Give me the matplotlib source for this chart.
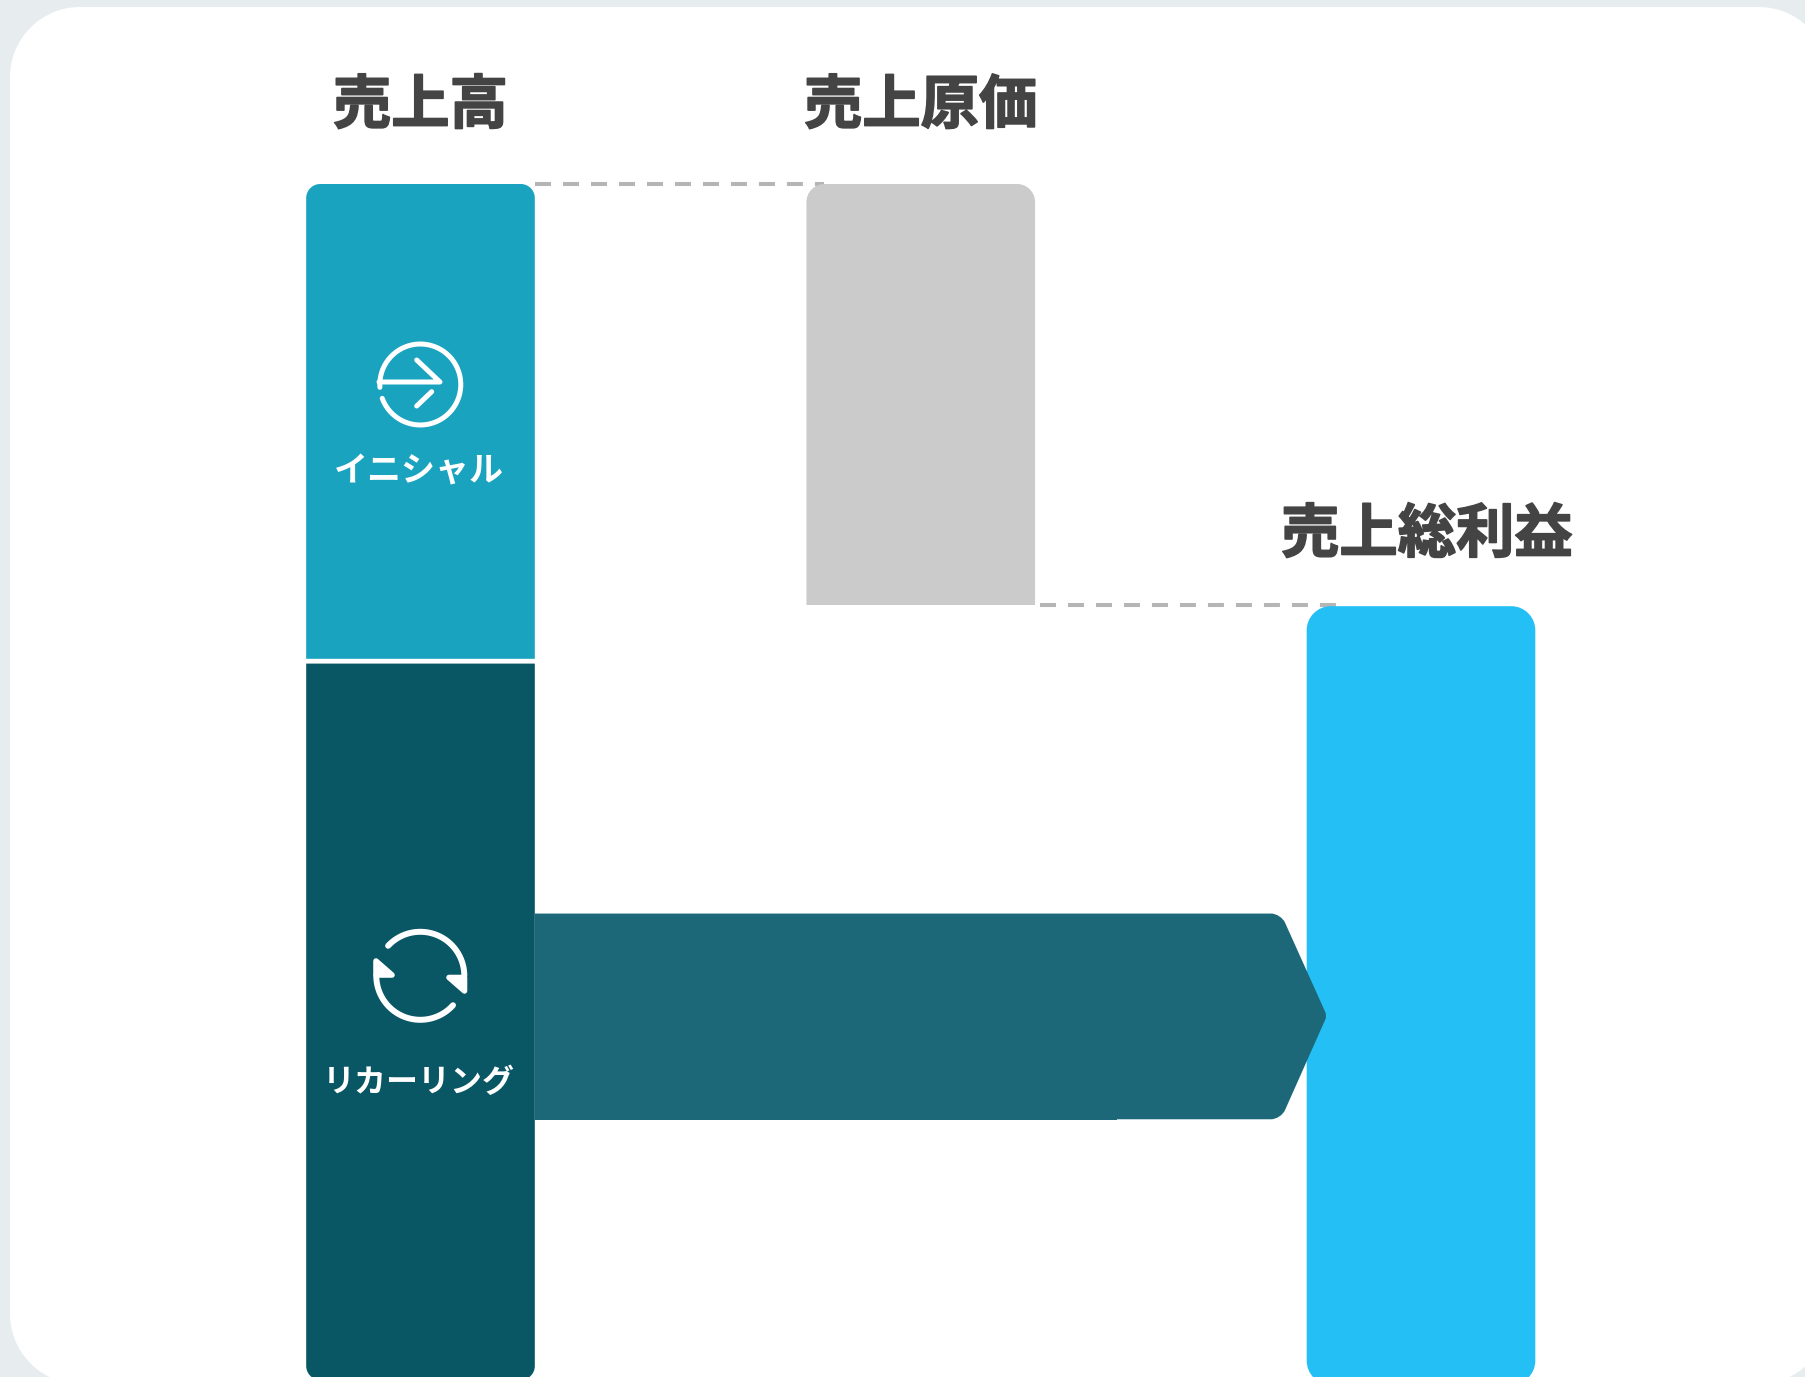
import numpy as np
import matplotlib
matplotlib.use('Agg')
import matplotlib.pyplot as plt
import matplotlib.patheffects as pe
from matplotlib.path import Path
from matplotlib.patches import PathPatch

plt.rcParams['font.family'] = ['Noto Sans CJK JP', 'DejaVu Sans']

# values as percent of sales
categories = ['売上高', '売上原価', '売上総利益']
initial = 39.7
recurring = 59.9
cost = 35.2
gross_profit = 64.7
band_low = 21.8
band_high = 39.0
segment_labels = ['イニシャル', 'リカーリング']

W, H = 1806, 1377
BG = '#e7ecef'
INITIAL_C = '#19a3bf'
RECUR_C = '#095664'
BAND_C = '#1c6878'
COST_C = '#cbcbcb'
PROFIT_C = '#24bff4'
DASH_C = '#b5b5b5'
TITLE_C = '#444444'


def rounded(ax, pts, radii, color, zorder=2):
    # pts in data coords, radii in pixels, drawn in display coords
    p = ax.transData.transform(pts)
    verts, codes = [], []
    n = len(p)
    for i in range(n):
        a, b, c = p[i - 1], p[i], p[(i + 1) % n]
        r = radii[i]
        u1 = (a - b) / np.linalg.norm(a - b)
        u2 = (c - b) / np.linalg.norm(c - b)
        s, e = b + u1 * r, b + u2 * r
        verts.append(s)
        codes.append(Path.MOVETO if i == 0 else Path.LINETO)
        if r > 0:
            verts += [s + .55 * (b - s), e + .55 * (b - e), e]
            codes += [Path.CURVE4] * 3
    verts.append(verts[0])
    codes.append(Path.CLOSEPOLY)
    patch = PathPatch(Path(verts, codes), fc=color, ec='none', lw=0,
                      transform=None, zorder=zorder)
    ax.add_artist(patch)


fig = plt.figure(figsize=(W / 100, H / 100), dpi=100, facecolor=BG)

# card behind everything, pixel coords
bg = fig.add_axes([0, 0, 1, 1], zorder=0)
bg.set_xlim(0, W)
bg.set_ylim(H, 0)
bg.axis('off')
rounded(bg, [(10, 7), (1829, 7), (1829, 1384), (10, 1384)], [70, 70, 70, 70], 'white')

# chart: 500.25 px per category, 11.96 px per percent
ax = fig.add_axes([0, 0, 1, 1], zorder=1)
ax.patch.set_alpha(0)
ax.set_xlim(-420.5 / 500.25, (W - 420.5) / 500.25)
ax.set_ylim((1380 - H) / 11.96, 1380 / 11.96)
ax.axis('off')
bw = 0.457


def bar(x, low, high, radii, color, zorder=2):
    l, r = x - bw / 2, x + bw / 2
    rounded(ax, [(l, high), (r, high), (r, low), (l, low)], radii, color, zorder)


total = initial + recurring + 0.4
bar(0, recurring + 0.4, total, [14, 14, 0, 0], INITIAL_C)
bar(0, 0, recurring, [0, 0, 14, 14], RECUR_C)
bar(1, total - cost, total, [18, 18, 0, 0], COST_C)
bar(2, -0.4, gross_profit, [24, 24, 24, 24], PROFIT_C)

# band into the profit bar
edge = bw / 2
rounded(ax, [(edge, band_high), (1.72, band_high), (1.812, (band_low + band_high) / 2 + 0.05),
             (1.72, band_low), (edge, band_low)], [0, 10, 4, 10, 0], BAND_C, zorder=3)
ax.fill_between([edge, 1.392], band_low - 0.08, band_low + 1, color=BAND_C, lw=0, zorder=3)

# dashed connectors
ax.plot([edge, 0.806], [total, total], color=DASH_C, lw=2.9, dashes=(3.97, 2.98), zorder=1.5)
ax.plot([1 + edge + 0.01, 1.83], [total - cost, total - cost], color=DASH_C, lw=2.9,
        dashes=(3.97, 2.98), zorder=1.5)

# headings
stroke = [pe.withStroke(linewidth=1.2, foreground=TITLE_C)]
title_y = [total + 6.5, total + 6.5, gross_profit + 5.94]
title_x = [0, 1, 2.012]
for i in range(3):
    ax.text(title_x[i], title_y[i], categories[i], ha='center', va='center', fontsize=42,
            fontweight='bold', color=TITLE_C, path_effects=stroke)

# segment labels
ax.text(-0.004, recurring + 0.4 + 15.7, segment_labels[0], ha='center', va='center', fontsize=24.5,
        fontweight='bold', color='white')
ax.text(-0.004, 24.8, segment_labels[1], ha='center', va='center', fontsize=23,
        fontweight='bold', color='white')

# icons, pixel coords
ic = fig.add_axes([0, 0, 1, 1], zorder=2)
ic.patch.set_alpha(0)
ic.set_xlim(0, W)
ic.set_ylim(H, 0)
ic.axis('off')
kw = dict(color='white', solid_capstyle='round', solid_joinstyle='round')

t = np.radians(np.linspace(176, 520, 200))
ic.plot(420.3 + 40.5 * np.cos(t), 384.5 + 40.5 * np.sin(t), lw=3.6, **kw)
ic.plot([379, 440, 416.7], [382, 382, 360], lw=3.6, **kw)
ic.plot([431.7, 416.7], [391.7, 406], lw=3.6, **kw)

t = np.radians(np.linspace(223, 360, 100))
ic.plot(420.3 + 44 * np.cos(t), 975.8 + 44 * np.sin(t), lw=4.3, **kw)
t = np.radians(np.linspace(42, 180, 100))
ic.plot(420.3 + 44 * np.cos(t), 975.8 + 44 * np.sin(t), lw=4.3, **kw)
for xs, ys in [([449, 464.5, 464.5], [977.5, 991, 977.5]), ([376, 376, 392], [961, 975, 975])]:
    ic.fill(xs, ys, fc='white', ec='white', lw=4, joinstyle='round')

fig.savefig('out.png', dpi=100, facecolor=BG)
